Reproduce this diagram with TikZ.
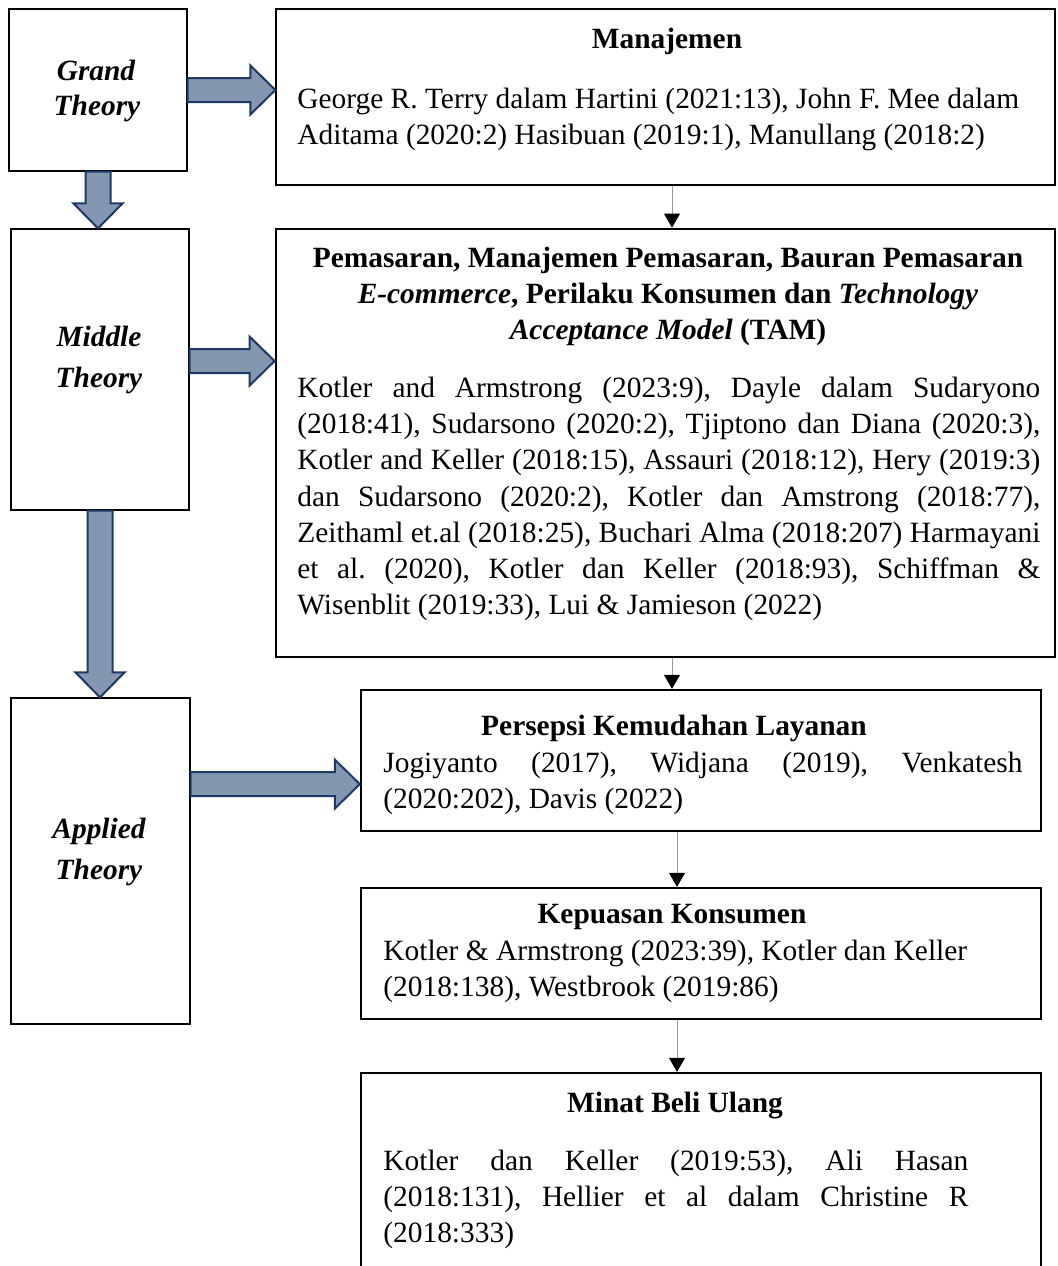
\documentclass[tikz,border=0pt]{standalone}
\usepackage{fontspec}
\setmainfont{Liberation Serif}
\usetikzlibrary{arrows.meta,calc,fit,positioning}
\definecolor{arrfill}{HTML}{8497B0}
\definecolor{arrdraw}{HTML}{1F3864}
\newcommand{\bodysize}{\fontsize{14.7}{18.1}\selectfont\frenchspacing}
\tikzset{
  box/.style={draw, line width=0.6pt, inner sep=0pt},
  boxthick/.style={draw, line width=1.2pt, inner sep=0pt},
  theory/.style={font=\bodysize\bfseries\itshape, anchor=base, inner sep=0pt},
  title/.style={font=\bodysize\bfseries, anchor=base, inner sep=0pt},
  body/.style={font=\bodysize, anchor=north west, inner sep=0pt},
  blockarr/.style={fill=arrfill, draw=arrdraw, line width=1pt, line join=miter},
  thinarr/.style={draw=gray!80, line width=0.5pt, -{Triangle[black,width=8pt,length=7pt]}},
}
% block arrows: horizontal and vertical, from #1 to #2
\newcommand{\harr}[2]{%
  \draw[blockarr] let \p1=(#1), \p2=(#2) in
    (\x1,\y1+6pt) -- (\x2-12.5pt,\y1+6pt) -- (\x2-12.5pt,\y1+12.25pt) -- (\x2,\y1)
    -- (\x2-12.5pt,\y1-12.25pt) -- (\x2-12.5pt,\y1-6pt) -- (\x1,\y1-6pt) -- cycle;}
\newcommand{\varr}[2]{%
  \draw[blockarr] let \p1=(#1), \p2=(#2) in
    (\x1-6.25pt,\y1) -- (\x1-6.25pt,\y2+12.5pt) -- (\x1-12.25pt,\y2+12.5pt) -- (\x1,\y2)
    -- (\x1+12.25pt,\y2+12.5pt) -- (\x1+6.25pt,\y2+12.5pt) -- (\x1+6.25pt,\y1) -- cycle;}

\begin{document}
\begin{tikzpicture}[x=0.5pt,y=-0.5pt]
  \useasboundingbox (0,0) rectangle (1057,1266);
  \clip (0,0) rectangle (1057,1266);

  % left column
  \node[box, fit={(9,9) (187,171)}] (grand) {};
  \node[box, fit={(11,229) (189,510)}] (middle) {};
  \node[box, fit={(11,698) (190,1024)}] (applied) {};
  \node[theory] (grand1) at (96,80) {Grand};
  \node[theory] (grand2) at (97,115) {Theory};
  \node[theory] (middle1) at (99,346) {Middle};
  \node[theory] (middle2) at (99,387) {Theory};
  \node[theory] (applied1) at (99,838) {Applied};
  \node[theory] (applied2) at (99,879) {Theory};

  % right column
  \node[box, fit={(276,9) (1055,185)}] (manaj) {};
  \node[title] (manajtitle) at (667,48) {Manajemen};
  \node[body, align=left] (manajtxt) at (297,82.7)
    {\strut George R. Terry dalam Hartini (2021:13), John F. Mee dalam\\
     Aditama (2020:2) Hasibuan (2019:1), Manullang (2018:2)};

  \node[boxthick, line width=1.4pt, fit={(276,229) (1055,657)}] (big) {};
  \node[title, anchor=north, align=center] (bigtitle) at (668,241.7)
    {\strut Pemasaran, Manajemen Pemasaran, Bauran Pemasaran\\
     \textit{E-commerce}, Perilaku Konsumen dan \textit{Technology}\\
     \textit{Acceptance Model} (TAM)};
  \node[body, text width=371.5pt, align=justify] (bigtxt) at (297,371.7)
    {\noindent\strut Kotler and Armstrong (2023:9), Dayle dalam Sudaryono\linebreak
     (2018:41), Sudarsono (2020:2), Tjiptono dan Diana (2020:3),\linebreak
     Kotler and Keller (2018:15), Assauri (2018:12), Hery (2019:3)\linebreak
     dan Sudarsono (2020:2), Kotler dan Amstrong (2018:77),\linebreak
     Zeithaml et.al (2018:25), Buchari Alma (2018:207) Harmayani\linebreak
     et al. (2020), Kotler dan Keller (2018:93), Schiffman \&\linebreak
     Wisenblit (2019:33), Lui \& Jamieson (2022)};

  \node[boxthick, fit={(361,690) (1041,831)}] (persepsi) {};
  \node[title] (persepsititle) at (674,735) {Persepsi Kemudahan Layanan};
  \node[body, text width=319.5pt, align=justify] (persepsitxt) at (383,746.7)
    {\noindent\strut Jogiyanto (2017), Widjana (2019), Venkatesh\linebreak
     (2020:202), Davis (2022)};

  \node[boxthick, fit={(361,888) (1041,1019)}] (kepuasan) {};
  \node[title] (kepuasantitle) at (672,923) {Kepuasan Konsumen};
  \node[body, align=left] (kepuasantxt) at (383,934.7)
    {\strut Kotler \& Armstrong (2023:39), Kotler dan Keller\\
     (2018:138), Westbrook (2019:86)};

  \node[boxthick, fit={(361,1073) (1041,1300)}] (minat) {};
  \node[title] (minattitle) at (675,1112) {Minat Beli Ulang};
  \node[body, text width=292.5pt, align=justify] (minattxt) at (383,1144.7)
    {\noindent\strut Kotler dan Keller (2019:53), Ali Hasan\linebreak
     (2018:131), Hellier et al dalam Christine R\linebreak
     (2018:333)};

  % block arrows
  \coordinate (m2) at ($(middle.north east)!0.47!(middle.south east)$);
  \coordinate (a2) at ($(applied.north east)!0.265!(applied.south east)$);
  \harr{grand.east}{manaj.west |- grand.east}
  \harr{m2}{big.west |- m2}
  \harr{a2}{persepsi.west |- a2}
  \varr{grand.south}{middle.north -| grand.south}
  \varr{middle.south}{applied.north -| middle.south}

  % thin arrows
  \coordinate (c1) at (672,0);
  \coordinate (c2) at (677,0);
  \draw[thinarr] (manaj.south -| c1) -- (big.north -| c1);
  \draw[thinarr] (big.south -| c1) -- (persepsi.north -| c1);
  \draw[thinarr] (persepsi.south -| c2) -- (kepuasan.north -| c2);
  \draw[thinarr] (kepuasan.south -| c2) -- (minat.north -| c2);
\end{tikzpicture}
\end{document}
